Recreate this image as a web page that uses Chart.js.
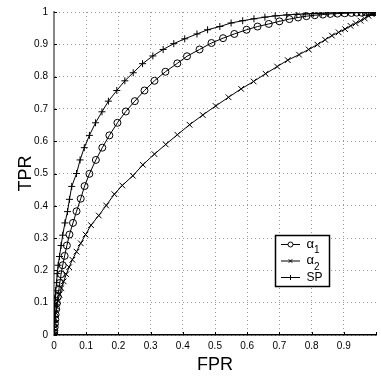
<!DOCTYPE html>
<html>
<head>
<meta charset="utf-8">
<script src="https://cdn.jsdelivr.net/npm/chart.js@4/dist/chart.umd.min.js"></script>
<style>
html,body{margin:0;padding:0;background:#fff;overflow:hidden;}
canvas{display:block;}
</style>
</head>
<body>
<canvas id="c" width="381" height="379"></canvas>
<script>
// ---- data ----
const seriesNames = ['α1', 'α2', 'SP'];
const xTitle = 'FPR';
const yTitle = 'TPR';
const tickValues = [0, 0.1, 0.2, 0.3, 0.4, 0.5, 0.6, 0.7, 0.8, 0.9, 1];

const fprA1 = [0, 0.0005, 0.001, 0.002, 0.003, 0.004, 0.005, 0.007, 0.009, 0.012, 0.015, 0.018, 0.022, 0.027, 0.033, 0.040, 0.048, 0.059, 0.070, 0.083, 0.095, 0.110, 0.130, 0.150, 0.172, 0.197, 0.223, 0.251, 0.281, 0.312, 0.346, 0.383, 0.413, 0.452, 0.489, 0.525, 0.560, 0.598, 0.632, 0.667, 0.700, 0.731, 0.758, 0.784, 0.810, 0.835, 0.858, 0.880, 0.903, 0.924, 0.940, 0.955, 0.968, 0.978, 0.987, 0.994, 1];
const tprA1 = [0, 0.007, 0.014, 0.024, 0.035, 0.048, 0.063, 0.080, 0.098, 0.118, 0.140, 0.161, 0.188, 0.216, 0.245, 0.277, 0.311, 0.347, 0.383, 0.422, 0.461, 0.499, 0.542, 0.580, 0.618, 0.657, 0.692, 0.724, 0.757, 0.787, 0.815, 0.841, 0.863, 0.884, 0.904, 0.919, 0.932, 0.945, 0.955, 0.963, 0.971, 0.978, 0.983, 0.987, 0.990, 0.992, 0.994, 0.995, 0.996, 0.997, 0.998, 0.998, 0.999, 0.999, 1, 1, 1];

const fprA2 = [0, 0.0005, 0.0015, 0.003, 0.005, 0.008, 0.012, 0.017, 0.023, 0.030, 0.038, 0.047, 0.057, 0.070, 0.083, 0.098, 0.115, 0.139, 0.162, 0.1875, 0.212, 0.245, 0.276, 0.312, 0.347, 0.383, 0.421, 0.462, 0.502, 0.542, 0.581, 0.620, 0.657, 0.693, 0.726, 0.761, 0.791, 0.818, 0.842, 0.863, 0.884, 0.904, 0.921, 0.937, 0.952, 0.965, 0.977, 0.987, 0.995, 1];
const tprA2 = [0, 0.020, 0.036, 0.052, 0.069, 0.087, 0.105, 0.125, 0.145, 0.166, 0.188, 0.210, 0.233, 0.258, 0.284, 0.311, 0.340, 0.370, 0.401, 0.436, 0.463, 0.493, 0.527, 0.560, 0.590, 0.620, 0.651, 0.681, 0.709, 0.736, 0.762, 0.785, 0.809, 0.831, 0.851, 0.868, 0.884, 0.899, 0.914, 0.927, 0.937, 0.947, 0.957, 0.965, 0.973, 0.980, 0.988, 0.993, 0.997, 1];

const fprSP = [0, 0.0001, 0.0003, 0.0006, 0.001, 0.0015, 0.002, 0.003, 0.004, 0.005, 0.008, 0.010, 0.013, 0.017, 0.022, 0.027, 0.034, 0.042, 0.048, 0.055, 0.070, 0.081, 0.094, 0.110, 0.129, 0.149, 0.169, 0.195, 0.220, 0.246, 0.275, 0.307, 0.339, 0.372, 0.406, 0.444, 0.477, 0.515, 0.550, 0.586, 0.621, 0.655, 0.687, 0.723, 0.754, 0.780, 0.805, 0.830, 0.852, 0.873, 0.893, 0.912, 0.930, 0.946, 0.960, 0.972, 0.982, 0.990, 0.996, 1];
const tprSP = [0, 0.007, 0.016, 0.028, 0.042, 0.057, 0.075, 0.095, 0.115, 0.137, 0.162, 0.190, 0.216, 0.243, 0.277, 0.309, 0.347, 0.382, 0.420, 0.460, 0.500, 0.542, 0.580, 0.618, 0.657, 0.691, 0.724, 0.757, 0.787, 0.812, 0.840, 0.864, 0.884, 0.902, 0.917, 0.932, 0.945, 0.955, 0.966, 0.973, 0.979, 0.984, 0.988, 0.991, 0.993, 0.994, 0.995, 0.996, 0.997, 0.997, 0.998, 0.998, 0.999, 0.999, 0.999, 1, 1, 1, 1, 1];

// ---- build datasets ----
const pts = (xs, ys) => xs.map((x, i) => ({x: x, y: ys[i]}));
const styles = [
  {pointStyle: 'circle', pointRadius: 3.5},
  {pointStyle: 'crossRot', pointRadius: 4},
  {pointStyle: 'cross', pointRadius: 3.5}
];
const allData = [pts(fprA1, tprA1), pts(fprA2, tprA2), pts(fprSP, tprSP)];

const datasets = allData.map((d, i) => ({
  label: seriesNames[i],
  data: d,
  showLine: true,
  borderColor: '#000',
  borderWidth: 1,
  backgroundColor: 'rgba(0,0,0,0)',
  pointBorderColor: '#000',
  pointBackgroundColor: 'rgba(0,0,0,0)',
  pointBorderWidth: 1,
  pointStyle: styles[i].pointStyle,
  pointRadius: styles[i].pointRadius,
  tension: 0
}));

const fmt = v => {
  const r = Math.round(v * 10) / 10;
  if (r === 0) return '0';
  if (r === 1) return '1';
  return r.toFixed(1);
};

// inward tick marks (Matlab style), placed through the chart's own scales
const innerTicks = {
  id: 'innerTicks',
  beforeDatasetsDraw(chart) {
    const {ctx, chartArea, scales} = chart;
    ctx.save();
    ctx.strokeStyle = '#000';
    ctx.lineWidth = 1;
    ctx.beginPath();
    tickValues.forEach(v => {
      const px = Math.round(scales.x.getPixelForValue(v)) + 0.5;
      ctx.moveTo(px, chartArea.bottom);
      ctx.lineTo(px, chartArea.bottom - 3);
      const py = Math.round(scales.y.getPixelForValue(v)) + 0.5;
      ctx.moveTo(chartArea.left, py);
      ctx.lineTo(chartArea.left + 3, py);
    });
    ctx.stroke();
    ctx.restore();
  }
};

const legendPlugin = {
  id: 'boxLegend',
  afterDatasetsDraw(chart) {
    const ctx = chart.ctx;
    const bx = 275.5, by = 235.5, bw = 54, bh = 51;
    ctx.save();
    ctx.fillStyle = '#fff';
    ctx.fillRect(bx, by, bw, bh);
    ctx.strokeStyle = '#000';
    ctx.lineWidth = 1.5;
    ctx.strokeRect(bx, by, bw, bh);
    chart.data.datasets.forEach((ds, i) => {
      const y = 244 + i * 16.5;
      ctx.strokeStyle = '#000';
      ctx.lineWidth = 1;
      ctx.beginPath();
      ctx.moveTo(281, y + 0.5);
      ctx.lineTo(300, y + 0.5);
      ctx.stroke();
      Chart.helpers.drawPoint(ctx, {
        pointStyle: ds.pointStyle,
        radius: 2.5,
        rotation: 0,
        borderWidth: 1
      }, 290.5, y + 0.5);
      ctx.fillStyle = '#000';
      ctx.textBaseline = 'middle';
      ctx.textAlign = 'left';
      const lab = ds.label;
      if (lab.charAt(0) === 'α') {
        ctx.font = '13px "Liberation Sans", Arial, sans-serif';
        ctx.fillText('α', 306.5, y);
        const w = ctx.measureText('α').width;
        ctx.font = '10px "Liberation Sans", Arial, sans-serif';
        ctx.fillText(lab.slice(1), 306.5 + w, y + 6.5);
      } else {
        ctx.font = '12px "Liberation Sans", Arial, sans-serif';
        ctx.fillText(lab, 306.5, y + 0.5);
      }
    });
    ctx.restore();
  }
};

const tickFont = {family: '"Liberation Sans", Arial, sans-serif', size: 10};
const titleFont = {family: '"Liberation Sans", Arial, sans-serif', size: 18};

new Chart(document.getElementById('c'), {
  type: 'scatter',
  data: {datasets: datasets},
  options: {
    responsive: false,
    animation: false,
    devicePixelRatio: 1,
    layout: {padding: {top: 6, left: 0, right: 0, bottom: 0}},
    plugins: {
      legend: {display: false},
      tooltip: {enabled: false}
    },
    scales: {
      x: {
        type: 'linear',
        min: 0, max: 1,
        afterFit: s => { s.height = 44; },
        afterBuildTicks: s => { s.ticks = tickValues.map(v => ({value: v})); },
        ticks: {
          color: '#000',
          font: tickFont,
          padding: 5,
          maxRotation: 0,
          autoSkip: false,
          callback: v => (Math.round(v * 10) === 10 ? '' : fmt(v))
        },
        grid: {
          drawTicks: false,
          color: ctx => (ctx.tick && Math.round(ctx.tick.value * 10) === 10 ? 'rgba(0,0,0,0)' : '#999'),
          lineWidth: 1
        },
        border: {display: true, color: '#000', width: 1.5, dash: [1, 3]},
        title: {display: true, text: xTitle, color: '#000', font: titleFont, padding: {top: 0, bottom: 3}}
      },
      y: {
        type: 'linear',
        min: 0, max: 1,
        afterFit: s => { s.width = 54; },
        afterBuildTicks: s => { s.ticks = tickValues.map(v => ({value: v})); },
        ticks: {
          color: '#000',
          font: tickFont,
          padding: 6,
          autoSkip: false,
          callback: v => fmt(v)
        },
        grid: {drawTicks: false, color: '#999', lineWidth: 1},
        border: {display: true, color: '#888', width: 2, dash: [1, 3]},
        title: {display: true, text: yTitle, color: '#000', font: titleFont, padding: {top: 15, bottom: 0}}
      }
    }
  },
  plugins: [innerTicks, legendPlugin]
});
</script>
</body>
</html>
